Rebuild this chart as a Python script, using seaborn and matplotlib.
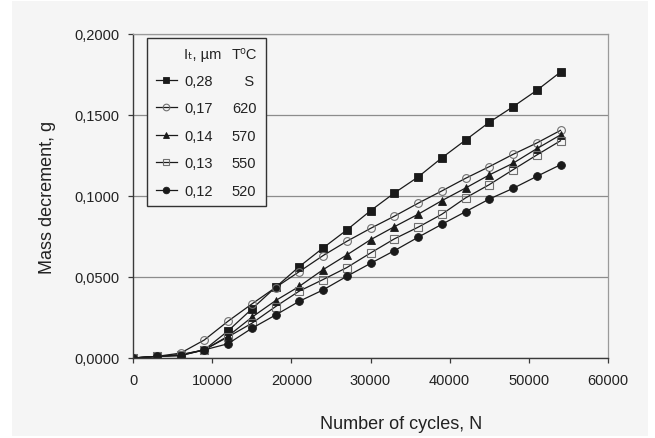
import matplotlib
matplotlib.use("Agg")
import matplotlib.pyplot as plt
import seaborn as sns
from matplotlib.lines import Line2D
from matplotlib.patches import Rectangle
from matplotlib.ticker import FuncFormatter

# ---------------- data ----------------
cycles = [0, 3000, 6000, 9000, 12000, 15000, 18000, 21000, 24000, 27000,
          30000, 33000, 36000, 39000, 42000, 45000, 48000, 51000, 54000]

it_labels = ["0,28", "0,17", "0,14", "0,13", "0,12"]
temp_labels = ["S", "620", "570", "550", "520"]

mass_028 = [0, 0.001, 0.0015, 0.005, 0.0167, 0.0302, 0.0436, 0.0564, 0.0679, 0.079,
            0.0909, 0.1018, 0.1117, 0.1235, 0.1345, 0.1455, 0.1551, 0.1652, 0.1765]
mass_017 = [0, 0.001, 0.003, 0.0111, 0.0227, 0.0333, 0.0435, 0.0533, 0.0632, 0.072,
            0.080, 0.0875, 0.0955, 0.1031, 0.1109, 0.1181, 0.1257, 0.1327, 0.1405]
mass_014 = [0, 0.001, 0.002, 0.005, 0.0135, 0.0251, 0.0354, 0.0442, 0.0545, 0.0636,
            0.073, 0.081, 0.0887, 0.0971, 0.1049, 0.113, 0.1202, 0.1292, 0.1377]
mass_013 = [0, 0.001, 0.002, 0.005, 0.013, 0.0214, 0.0317, 0.0413, 0.0484, 0.0558,
            0.0648, 0.0735, 0.0807, 0.0887, 0.0988, 0.107, 0.1162, 0.1253, 0.1341]
mass_012 = [0, 0.001, 0.0015, 0.005, 0.0088, 0.0183, 0.0265, 0.035, 0.042, 0.0504,
            0.0584, 0.0662, 0.0745, 0.0825, 0.0903, 0.0981, 0.1047, 0.1121, 0.1193]

series = [mass_028, mass_017, mass_014, mass_013, mass_012]

# ---------------- style ----------------
BG = "#f5f5f5"
plt.rcParams["font.family"] = ["Liberation Sans", "DejaVu Sans"]

marker_styles = [
    dict(marker="s", markersize=5.2, markerfacecolor="#1a1a1a", markeredgecolor="#1a1a1a", markeredgewidth=0.6),
    dict(marker="o", markersize=5.6, markerfacecolor="none", markeredgecolor="#707070", markeredgewidth=0.8),
    dict(marker="^", markersize=5.8, markerfacecolor="#1a1a1a", markeredgecolor="#1a1a1a", markeredgewidth=0.6),
    dict(marker="s", markersize=5.4, markerfacecolor="none", markeredgecolor="#707070", markeredgewidth=0.8),
    dict(marker="o", markersize=5.6, markerfacecolor="#1a1a1a", markeredgecolor="#1a1a1a", markeredgewidth=0.6),
]

fig = plt.figure(figsize=(6.55, 4.39), dpi=100)
fig.patch.set_facecolor("white")
fig.add_artist(Rectangle((12 / 655, 2 / 439), 636 / 655, 435 / 439,
                         transform=fig.transFigure, facecolor=BG, edgecolor="none", zorder=-10))

ax = fig.add_axes([133 / 655, 1 - 359 / 439, 475 / 655, 324 / 439])
ax.set_facecolor(BG)

handles = []
for vals, lab, ms in zip(series, it_labels, marker_styles):
    sns.lineplot(x=cycles, y=vals, ax=ax, color="#1a1a1a", linewidth=0.9,
                 label=lab, legend=False, **ms)
    handles.append(ax.lines[-1])

ax.set_xlim(0, 60000)
ax.set_ylim(0, 0.2)
ax.set_xticks(range(0, 60001, 10000))
ax.set_yticks([0, 0.05, 0.10, 0.15, 0.20])
ax.yaxis.set_major_formatter(FuncFormatter(lambda v, p: f"{v:.4f}".replace(".", ",")))

ax.yaxis.grid(True, color="#8c8c8c", linewidth=0.9)
ax.xaxis.grid(False)
ax.set_axisbelow(True)

for s in ["left", "bottom"]:
    ax.spines[s].set_color("#3a3a3a")
    ax.spines[s].set_linewidth(1.0)
for s in ["top", "right"]:
    ax.spines[s].set_color("#9a9a9a")
    ax.spines[s].set_linewidth(0.9)

ax.tick_params(axis="both", direction="out", length=3.5, width=0.9, color="#3a3a3a",
               labelsize=10.5, labelcolor="#222222")
ax.tick_params(axis="y", pad=6)
ax.tick_params(axis="x", pad=7.5)

ax.set_xlabel("Number of cycles, N", fontsize=13, color="#222222", va="center")
ax.xaxis.set_label_coords(0.564, -0.201)
ax.set_ylabel("Mass decrement, g", fontsize=13, color="#222222", va="center")
ax.yaxis.set_label_coords(-0.181, 0.5)

# legend with two columns: I_t and T
blank = Line2D([], [], linestyle="none")
leg_handles = [blank] + handles + [blank] * 6
leg_labels = (["Iₜ, µm"] + it_labels +
              ["T⁰C"] + ["   " + temp_labels[0]] + temp_labels[1:])
leg = ax.legend(leg_handles, leg_labels, ncol=2, loc="upper left",
                bbox_to_anchor=(0.0295, 0.988), borderaxespad=0,
                frameon=True, fancybox=False, edgecolor="#333333", facecolor=BG,
                framealpha=1, fontsize=10.5, handlelength=1.45, handletextpad=0.5,
                columnspacing=-1.25, labelspacing=0.92, borderpad=0.6, markerscale=0.85)
leg.get_frame().set_linewidth(1.0)
for t in leg.get_texts():
    t.set_color("#222222")

fig.savefig("out.png", dpi=100, facecolor=fig.get_facecolor())
